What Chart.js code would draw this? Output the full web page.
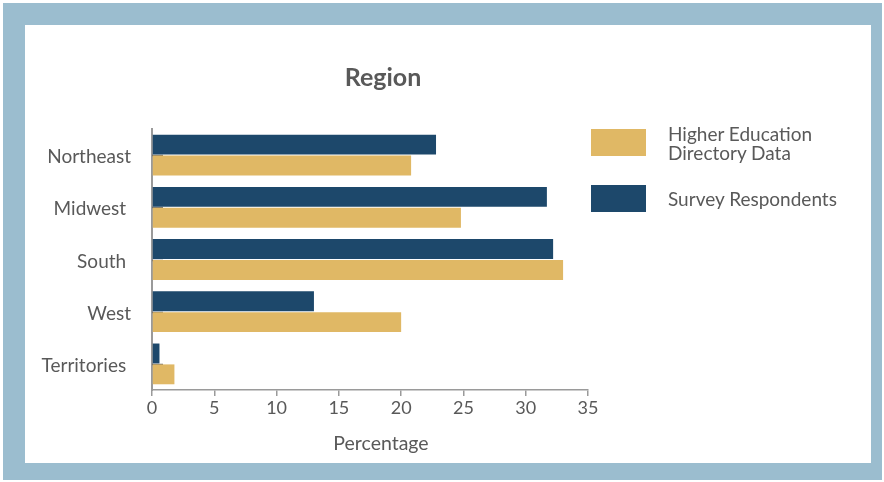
<!DOCTYPE html>
<html>
<head>
<meta charset="utf-8">
<script src="https://cdn.jsdelivr.net/npm/chart.js@4/dist/chart.umd.min.js"></script>
<style>
  html, body { margin: 0; padding: 0; background: #fff; }
  body { width: 884px; height: 482px; position: relative; overflow: hidden; font-family: Lato, "Open Sans", sans-serif; color: #595959; }
  .frame { position: absolute; left: 3px; top: 3px; width: 879px; height: 477px; background: #9bbdcf; }
  .inner { position: absolute; left: 25px; top: 25px; width: 846px; height: 438px; background: #fff; }
  #chart { position: absolute; left: 0; top: 0; }
  .title { position: absolute; left: 283px; width: 200px; top: 61px; text-align: center; font-weight: bold; font-size: 25px; line-height: 30px; }
  .xtitle { position: absolute; left: 281px; width: 200px; top: 431px; text-align: center; font-size: 19.5px; line-height: 24px; }
  .legend { position: absolute; left: 591px; font-size: 19px; line-height: 19px; }
  .legend .box { position: absolute; left: 0; top: 0; width: 55px; height: 27px; }
  .legend .lbl { position: absolute; left: 77px; white-space: nowrap; }
</style>
</head>
<body>
<div class="frame"></div>
<div class="inner"></div>
<canvas id="chart" width="884" height="482"></canvas>
<div class="title">Region</div>
<div class="xtitle">Percentage</div>
<div class="legend" style="top:129px">
  <div class="box" style="background:#e0b865"></div>
  <div class="lbl" style="top:-5px">Higher Education<br>Directory Data</div>
</div>
<div class="legend" style="top:185px">
  <div class="box" style="background:#1d486b"></div>
  <div class="lbl" style="top:4px">Survey Respondents</div>
</div>
<script>
// data
const regions = ['Northeast', 'Midwest ', 'South ', 'West', 'Territories '];
const surveyRespondents = [22.8, 31.7, 32.2, 13.0, 0.6];
const directoryData = [20.8, 24.8, 33.0, 20.0, 1.8];
const xTicks = [0, 5, 10, 15, 20, 25, 30, 35];

const NAVY = '#1d486b';
const GOLD = '#e0b865';
const TEXT = '#595959';
const AXIS = '#9a9a9a';

// small inward tick marks on the category axis (between the two bars)
const categoryTicks = {
    id: 'categoryTicks',
    beforeDatasetsDraw(chart) {
        const { ctx, chartArea, scales } = chart;
        ctx.save();
        ctx.strokeStyle = '#6b6b6b';
        ctx.lineWidth = 1.5;
        regions.forEach((r, i) => {
            const y = Math.round(scales.y.getPixelForValue(i)) + 0.5;
            ctx.beginPath();
            ctx.moveTo(chartArea.left, y);
            ctx.lineTo(chartArea.left + 11, y);
            ctx.stroke();
        });
        ctx.restore();
    }
};

new Chart(document.getElementById('chart'), {
    type: 'bar',
    data: {
        labels: regions,
        datasets: [
            { label: 'Survey Respondents', data: surveyRespondents, backgroundColor: NAVY },
            { label: 'Higher Education Directory Data', data: directoryData, backgroundColor: GOLD }
        ]
    },
    options: {
        indexAxis: 'y',
        responsive: false,
        animation: false,
        categoryPercentage: 0.8,
        barPercentage: 0.952,
        layout: { padding: { top: 129, right: 296, left: 0, bottom: 0 } },
        plugins: {
            legend: { display: false },
            tooltip: { enabled: false },
            title: { display: false }
        },
        scales: {
            x: {
                min: 0,
                max: 35,
                afterFit: (scale) => { scale.height = 92; },
                afterBuildTicks: (scale) => { scale.ticks = xTicks.map(v => ({ value: v })); },
                grid: { drawOnChartArea: false, drawTicks: true, tickLength: 6, color: AXIS, lineWidth: 1.5 },
                border: { color: AXIS, width: 1.5 },
                ticks: { color: TEXT, font: { family: 'Lato', size: 18 }, padding: 1 },
                title: { display: false }
            },
            y: {
                afterFit: (scale) => { scale.width = 152; },
                grid: { display: false, drawTicks: false },
                border: { color: AXIS, width: 2 },
                ticks: { color: TEXT, font: { family: 'Lato', size: 19 }, padding: 21, labelOffset: 2 }
            }
        }
    },
    plugins: [categoryTicks]
});
</script>
</body>
</html>
